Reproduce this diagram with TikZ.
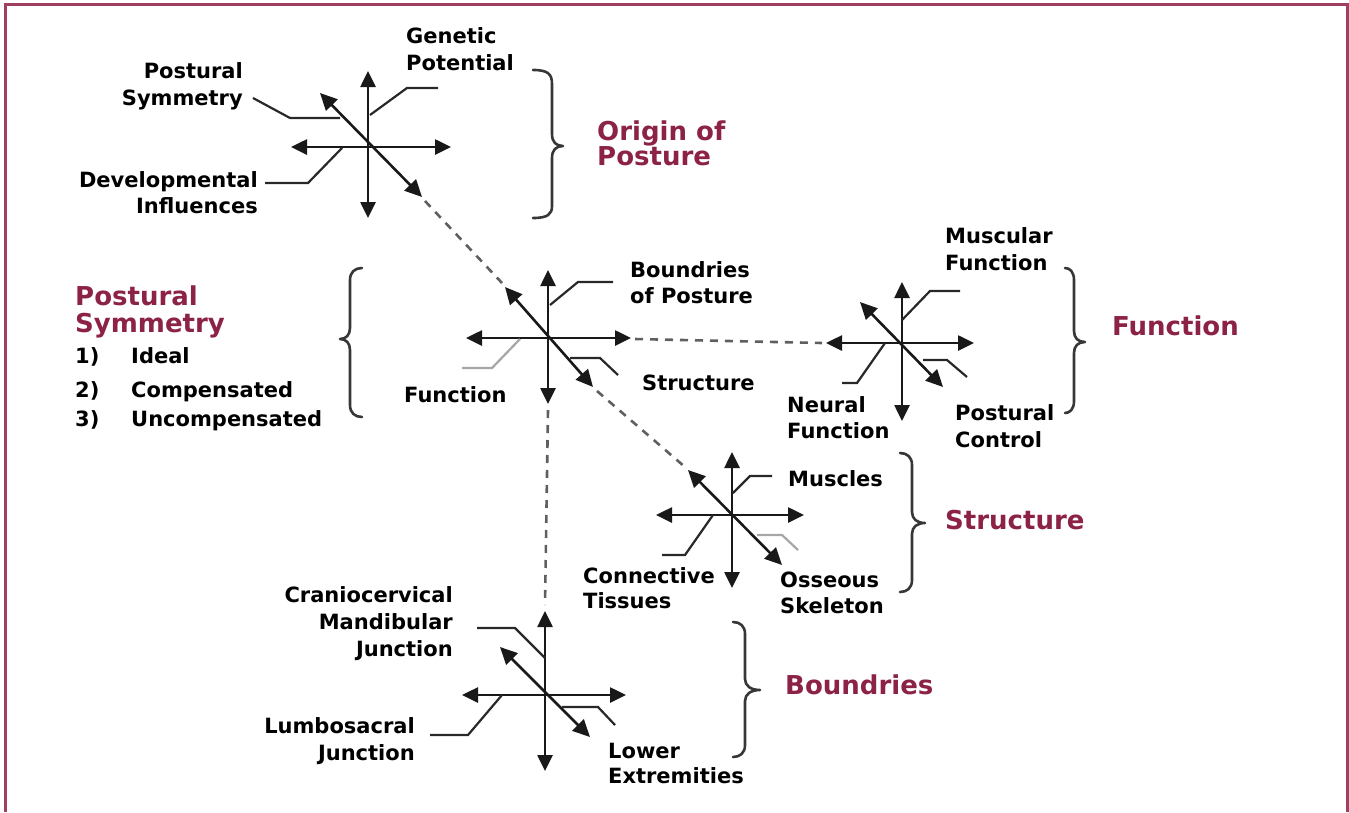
\documentclass[tikz,border=0pt]{standalone}
\usepackage{fontspec}
\usetikzlibrary{arrows.meta}
\newfontfamily\dvs{DejaVu Sans}
\definecolor{maroon}{RGB}{140,35,70}
\definecolor{framec}{RGB}{160,64,95}
\definecolor{axisc}{RGB}{25,25,25}
\definecolor{leadc}{RGB}{40,40,40}
\definecolor{dashc}{RGB}{95,95,95}
\definecolor{bracec}{RGB}{55,55,55}
\tikzset{
  lbl/.style={font=\dvs\bfseries\fontsize{21}{26}\selectfont, inner sep=0pt, text=black},
  ttl/.style={font=\dvs\bfseries\fontsize{26}{26}\selectfont, inner sep=0pt, text=maroon},
  axis/.style={draw=axisc, line width=2.6pt, {Triangle[length=16pt,width=15pt]}-{Triangle[length=16pt,width=15pt]}},
  diag/.style={draw=axisc, line width=2.6pt, {Triangle[length=17pt,width=16pt]}-{Triangle[length=17pt,width=16pt]}},
  leader/.style={draw=leadc, line width=2.2pt},
  leaderlt/.style={draw=gray!70, line width=2.2pt},
  dashlink/.style={draw=dashc, line width=2.6pt, dash pattern=on 8pt off 7pt},
  brace/.style={draw=bracec, line width=2.6pt, line cap=round, line join=round},
}
\begin{document}
\begin{tikzpicture}[x=1pt,y=-1pt]
\useasboundingbox (0,0) rectangle (1349,812);
% frame
\draw[framec, line width=3pt] (5,812) -- (5,4) -- (1347,4) -- (1347,812);

% ---------- cross 1 : origin ----------
\coordinate (a1t) at (368,71); \coordinate (a1b) at (368,218);
\coordinate (a1l) at (291,147); \coordinate (a1r) at (451,147);
\coordinate (a1nw) at (320,93); \coordinate (a1se) at (422,197);
\draw[axis] (a1t) -- (a1b);
\draw[axis] (a1l) -- (a1r);
\draw[diag] (a1nw) -- (a1se);
\draw[leader] (438,88) -- (407,88) -- (370,115);
\draw[leader] (253,98) -- (290,118) -- (340,118);
\draw[leader] (265,183) -- (308,183) -- (342,148);
\node[lbl, anchor=base west] (gen1) at (406,43) {Genetic};
\node[lbl, anchor=base west] (gen2) at (406,70) {Potential};
\node[lbl, anchor=base east] (ps1) at (243,78) {Postural};
\node[lbl, anchor=base east] (ps2) at (243,105) {Symmetry};
\node[lbl, anchor=base east] (dev1) at (258,187) {Developmental};
\node[lbl, anchor=base east] (dev2) at (258,213) {Influences};

% ---------- cross 2 : centre ----------
\coordinate (a2t) at (548,270); \coordinate (a2b) at (548,404);
\coordinate (a2l) at (466,338); \coordinate (a2r) at (631,338);
\coordinate (a2nw) at (505,287); \coordinate (a2se) at (593,387);
\draw[axis] (a2t) -- (a2b);
\draw[axis] (a2l) -- (a2r);
\draw[diag] (a2nw) -- (a2se);
\draw[leader] (613,282) -- (578,282) -- (550,305);
\draw[leaderlt] (462,368) -- (492,368) -- (520,339);
\draw[leader] (570,358) -- (600,358) -- (618,375);
\node[lbl, anchor=base west] (bp1) at (630,277) {Boundries};
\node[lbl, anchor=base west] (bp2) at (630,303) {of Posture};
\node[lbl, anchor=base west] (fn) at (404,402) {Function};
\node[lbl, anchor=base west] (st) at (642,390) {Structure};

% ---------- cross 3 : function ----------
\coordinate (a3t) at (902,282); \coordinate (a3b) at (902,421);
\coordinate (a3l) at (826,343); \coordinate (a3r) at (974,343);
\coordinate (a3nw) at (860,302); \coordinate (a3se) at (943,387);
\draw[axis] (a3t) -- (a3b);
\draw[axis] (a3l) -- (a3r);
\draw[diag] (a3nw) -- (a3se);
\draw[leader] (960,291) -- (930,291) -- (902,320);
\draw[leader] (842,383) -- (857,383) -- (885,343);
\draw[leader] (923,360) -- (947,360) -- (967,377);
\node[lbl, anchor=base west] (mf1) at (945,243) {Muscular};
\node[lbl, anchor=base west] (mf2) at (945,270) {Function};
\node[lbl, anchor=base west] (nf1) at (787,412) {Neural};
\node[lbl, anchor=base west] (nf2) at (787,438) {Function};
\node[lbl, anchor=base west] (pc1) at (955,420) {Postural};
\node[lbl, anchor=base west] (pc2) at (955,447) {Control};

% ---------- cross 4 : structure ----------
\coordinate (a4t) at (732,452); \coordinate (a4b) at (732,588);
\coordinate (a4l) at (656,515); \coordinate (a4r) at (804,515);
\coordinate (a4nw) at (688,470); \coordinate (a4se) at (782,565);
\draw[axis] (a4t) -- (a4b);
\draw[axis] (a4l) -- (a4r);
\draw[diag] (a4nw) -- (a4se);
\draw[leader] (772,476) -- (750,476) -- (733,493);
\draw[leader] (662,555) -- (685,555) -- (713,515);
\draw[leaderlt] (757,535) -- (782,535) -- (798,550);
\node[lbl, anchor=base west] (mu) at (788,486) {Muscles};
\node[lbl, anchor=base west] (ct1) at (583,583) {Connective};
\node[lbl, anchor=base west] (ct2) at (583,608) {Tissues};
\node[lbl, anchor=base west] (os1) at (780,587) {Osseous};
\node[lbl, anchor=base west] (os2) at (780,613) {Skeleton};

% ---------- cross 5 : boundries ----------
\coordinate (a5t) at (545,611); \coordinate (a5b) at (545,771);
\coordinate (a5l) at (462,695); \coordinate (a5r) at (626,695);
\coordinate (a5nw) at (500,647); \coordinate (a5se) at (590,737);
\draw[axis] (a5t) -- (a5b);
\draw[axis] (a5l) -- (a5r);
\draw[diag] (a5nw) -- (a5se);
\draw[leader] (477,628) -- (515,628) -- (545,658);
\draw[leader] (430,735) -- (468,735) -- (502,695);
\draw[leader] (562,707) -- (598,707) -- (615,725);
\node[lbl, anchor=base east] (cm1) at (453,602) {Craniocervical};
\node[lbl, anchor=base east] (cm2) at (453,629) {Mandibular};
\node[lbl, anchor=base east] (cm3) at (453,656) {Junction};
\node[lbl, anchor=base east] (lj1) at (415,733) {Lumbosacral};
\node[lbl, anchor=base east] (lj2) at (415,760) {Junction};
\node[lbl, anchor=base west] (le1) at (608,758) {Lower};
\node[lbl, anchor=base west] (le2) at (608,783) {Extremities};

% ---------- dashed links ----------
\draw[dashlink] ([shift={(3,4)}]a1se) -- ([shift={(-3,-4)}]a2nw);
\draw[dashlink] ([shift={(4,1)}]a2r) -- ([shift={(-4,0)}]a3l);
\draw[dashlink] ([shift={(4,4)}]a2se) -- ([shift={(-3,-3)}]a4nw);
\draw[dashlink] ([shift={(0,6)}]a2b) -- ([shift={(0,-6)}]a5t);

% ---------- braces ----------
\draw[brace] (533,70) .. controls (548,70) and (552,74) .. (552,84) -- (552,134)
  .. controls (552,142) and (556,146) .. (563,146)
  .. controls (556,146) and (552,150) .. (552,158) -- (552,206)
  .. controls (552,214) and (548,218) .. (533,218);
\draw[brace] (1065,268) .. controls (1070,268) and (1074,272) .. (1074,280) -- (1074,331)
  .. controls (1074,338) and (1078,342) .. (1085,342)
  .. controls (1078,342) and (1074,346) .. (1074,353) -- (1074,401)
  .. controls (1074,409) and (1070,413) .. (1065,413);
\draw[brace] (900,453) .. controls (907,453) and (912,457) .. (912,465) -- (912,512)
  .. controls (912,519) and (917,523) .. (925,523)
  .. controls (917,523) and (912,527) .. (912,534) -- (912,580)
  .. controls (912,588) and (907,592) .. (900,592);
\draw[brace] (733,622) .. controls (740,622) and (745,626) .. (745,634) -- (745,679)
  .. controls (745,686) and (751,690) .. (760,690)
  .. controls (751,690) and (745,694) .. (745,701) -- (745,745)
  .. controls (745,753) and (740,757) .. (733,757);
\draw[brace] (362,268) .. controls (355,268) and (350,272) .. (350,280) -- (350,328)
  .. controls (350,335) and (346,339) .. (340,339)
  .. controls (346,339) and (350,343) .. (350,350) -- (350,405)
  .. controls (350,413) and (355,417) .. (362,417);

% ---------- titles ----------
\node[ttl, anchor=base west] (t1a) at (597,140) {Origin of};
\node[ttl, anchor=base west] (t1b) at (597,165) {Posture};
\node[ttl, anchor=base west] (t2a) at (75,305) {Postural};
\node[ttl, anchor=base west] (t2b) at (75,332) {Symmetry};
\node[ttl, anchor=base west] (t3) at (1112,335) {Function};
\node[ttl, anchor=base west] (t4) at (945,529) {Structure};
\node[ttl, anchor=base west] (t5) at (785,694) {Boundries};

% ---------- list ----------
\node[lbl, anchor=base west] (n1) at (75,363) {1)};
\node[lbl, anchor=base west] (i1) at (131,363) {Ideal};
\node[lbl, anchor=base west] (n2) at (75,397) {2)};
\node[lbl, anchor=base west] (i2) at (131,397) {Compensated};
\node[lbl, anchor=base west] (n3) at (75,426) {3)};
\node[lbl, anchor=base west] (i3) at (131,426) {Uncompensated};
\end{tikzpicture}
\end{document}
